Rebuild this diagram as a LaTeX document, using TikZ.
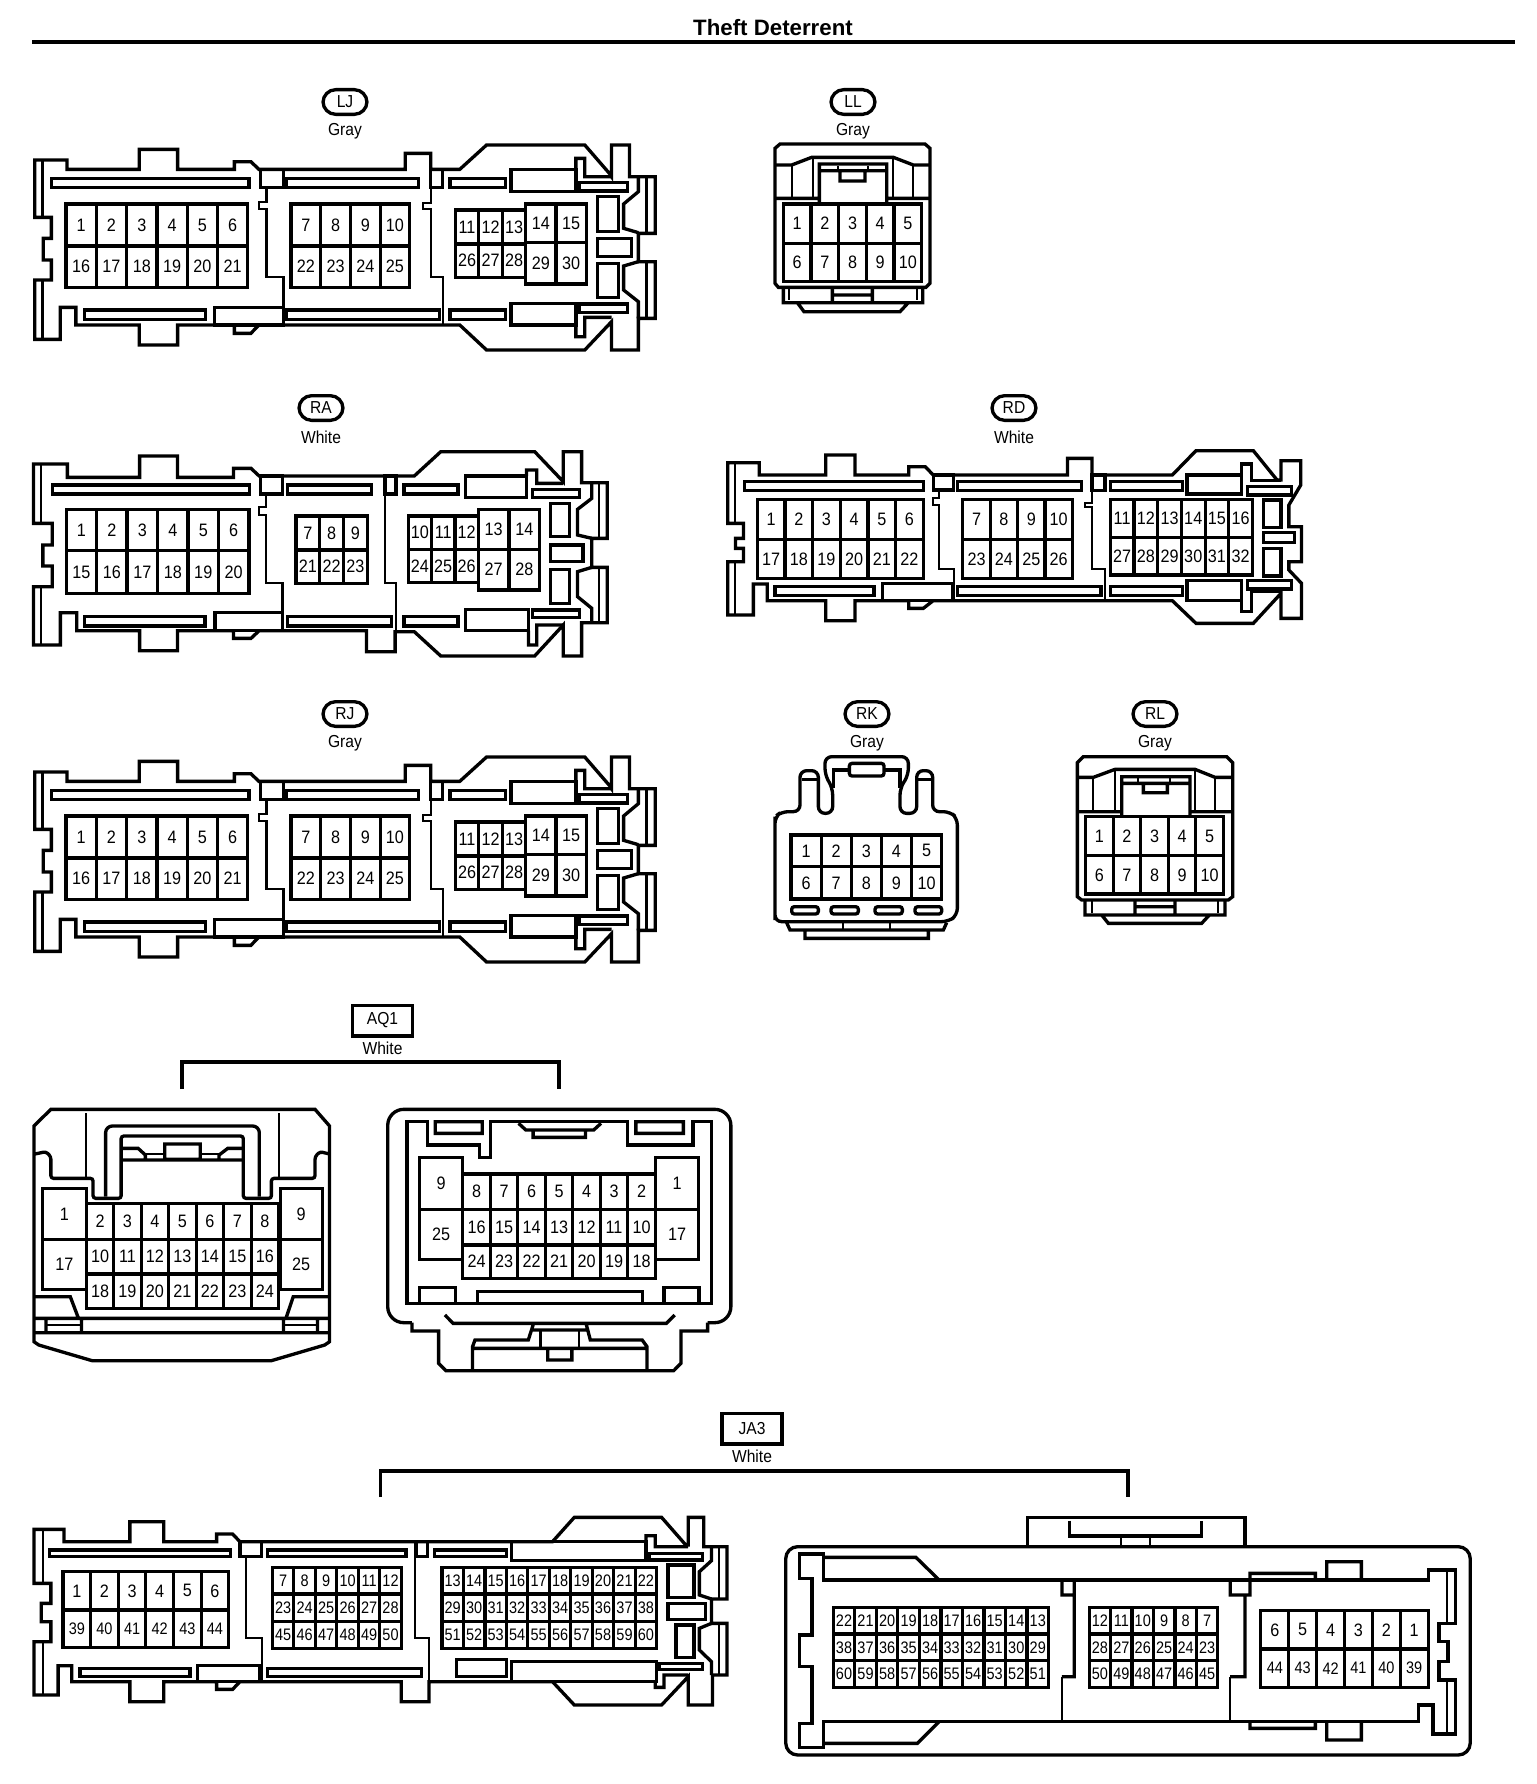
\documentclass[tikz,border=0pt]{standalone}
\usepackage{fontspec}
\setmainfont{Liberation Sans}
\newfontfamily\pinfont[FakeStretch=0.9]{Liberation Sans}
\newfontfamily\densefont[FakeStretch=0.87]{Liberation Sans}
\tikzset{
  outl/.style={draw=black,line width=2.5pt,line join=miter,fill=none},
  thinl/.style={draw=black,line width=1.7pt,line join=miter,fill=none},
  cellb/.style={draw=black,line width=2.4pt},
  pintxt/.style={inner sep=0pt,font=\pinfont\fontsize{13.5}{13.5}\selectfont},
  densetxt/.style={inner sep=0pt,font=\densefont\fontsize{12.5}{12.5}\selectfont},
  ovallab/.style={draw=black,line width=2.5pt,rounded corners=9.5pt,minimum width=33pt,minimum height=18.5pt,inner sep=0pt,font=\pinfont\fontsize{13}{13}\selectfont},
  boxlab/.style={draw=black,line width=2.5pt,minimum width=45pt,minimum height=23pt,inner sep=0pt,font=\pinfont\fontsize{13}{13}\selectfont},
  collab/.style={inner sep=0pt,font=\pinfont\fontsize{13}{13}\selectfont},
  zoomcs/.style n args={4}{shift={(#1,#2)},x={0.75pt/#3},y={-0.75pt/#4}}
}
% x0 x1 ncols y0 y1 style labels
\newcommand\pinrow[7]{%
  \foreach \t [count=\i] in {#7}{%
    \pgfmathsetmacro\xa{#1+(\i-1)*(#2-#1)/#3}%
    \pgfmathsetmacro\xb{#1+\i*(#2-#1)/#3}%
    \draw[cellb] (\xa,#4) rectangle (\xb,#5);
    \node[#6] (\t) at ({(\xa+\xb)/2},{(#4+#5)/2}) {\t};
  }%
}
\newcommand\connlabel[5]{%
  \node[ovallab] (#1) at (#2,#3) {#4};
  \node[collab] (#1col) at (#2,#3+29) {#5};
}
\newcommand\ljbody{%
  \draw[outl] (78,300)--(150,300)--(150,328)--(312,328)--(312,268)--(398,268)--(398,328)--(525,328)--(525,305)--(562,305)--(580,328)--(908,328)--(908,280)--(965,280)--(965,328)--(1030,328)--(1090,255)--(1310,255)--(1365,340)--(1370,350)--(1370,255)--(1410,255)--(1410,350)--(1468,350)--(1468,520)--(1430,520)--(1430,605)--(1468,605)--(1468,775)--(1430,775)--(1430,870)--(1370,870)--(1370,785)--(1310,870)--(1090,870)--(1030,795)--(580,795)--(562,820)--(525,820)--(525,795)--(398,795)--(398,855)--(312,855)--(312,795)--(170,795)--(170,742)--(135,742)--(135,838)--(78,838)--(78,660)--(115,660)--(115,600)--(97,600)--(97,535)--(115,535)--(115,472)--(78,472)--cycle;
  \draw[thinl] (95,300)--(95,472) (95,660)--(95,838) (1448,350)--(1448,520) (1448,605)--(1448,775);
  \draw[outl] (115,355) rectangle (558,382) (642,355) rectangle (938,382) (1008,355) rectangle (1133,382)
    (190,750) rectangle (460,778) (642,750) rectangle (985,778) (1008,750) rectangle (1133,778)
    (480,742) rectangle (635,795) (583,328) rectangle (635,382) (965,328) rectangle (992,382)
    (1145,328) rectangle (1290,395) (1298,368) rectangle (1405,393) (1338,410) rectangle (1385,515)
    (1338,535) rectangle (1415,590) (1338,610) rectangle (1385,712) (1145,730) rectangle (1290,795)
    (1298,732) rectangle (1405,757);
  \draw[thinl] (597,382)--(597,425)--(580,425)--(580,447)--(597,447)--(597,652)--(635,652)--(635,795)
    (965,382)--(965,430)--(948,430)--(948,447)--(965,447)--(965,652)--(992,652)--(992,795);
  \draw[outl] (1290,328)--(1290,295)--(1310,295)--(1310,350)--(1370,350)
    (1290,795)--(1290,830)--(1310,830)--(1310,772)--(1370,772)
    (1430,350)--(1430,395)--(1397,432)--(1397,505)--(1430,518)
    (1430,605)--(1397,618)--(1397,690)--(1430,725)--(1430,775);
  \pinrow{148}{555}{6}{432}{558}{pintxt}{1,2,3,4,5,6}
  \pinrow{148}{555}{6}{558}{682}{pintxt}{16,17,18,19,20,21}
  \pinrow{652}{918}{4}{432}{558}{pintxt}{7,8,9,10}
  \pinrow{652}{918}{4}{558}{682}{pintxt}{22,23,24,25}
  \pinrow{1020}{1178}{3}{450}{552}{pintxt}{11,12,13}
  \pinrow{1020}{1178}{3}{552}{652}{pintxt}{26,27,28}
  \pinrow{1178}{1313}{2}{432}{548}{pintxt}{14,15}
  \pinrow{1178}{1313}{2}{548}{672}{pintxt}{29,30}
}
\begin{document}
\begin{tikzpicture}[x=0.75pt,y=-0.75pt]
\useasboundingbox (0,0) rectangle (1536,1784);
\fill[white] (0,0) rectangle (1536,1784);
% title
\node[inner sep=0pt,font=\bfseries\fontsize{16.7}{16.7}\selectfont] (title) at (773,27.5) {Theft Deterrent};
\coordinate (ruleL) at (32,42);
\coordinate (ruleR) at (1515,42);
\draw[line width=3.2pt] (ruleL)--(ruleR);
% labels
\connlabel{LJ}{345}{102}{LJ}{Gray}
\connlabel{LL}{853}{102}{LL}{Gray}
\connlabel{RA}{321}{408}{RA}{White}
\connlabel{RD}{1014}{408}{RD}{White}
\connlabel{RJ}{345}{714}{RJ}{Gray}
\connlabel{RK}{867}{714}{RK}{Gray}
\connlabel{RL}{1155}{714}{RL}{Gray}
\node[boxlab] (AQ1) at (382.5,1020.5) {AQ1};
\node[collab] (AQ1col) at (382.5,1048) {White};
\coordinate (aqL) at (182,1089);
\coordinate (aqR) at (559,1089);
\draw[outl] (aqL)--(182,1062)--(559,1062)--(aqR);
\node[boxlab] (JA3) at (752,1428.5) {JA3};
\node[collab] (JA3col) at (752,1456) {White};
\coordinate (jaL) at (380.5,1497);
\coordinate (jaR) at (1128,1497);
\draw[outl] (jaL)--(380.5,1471)--(1128,1471)--(jaR);
% LJ
\begin{scope}[zoomcs={0}{60}{2.24}{3},name prefix=lj-]\ljbody\end{scope}
% RJ
\begin{scope}[zoomcs={0}{672}{2.24}{3},name prefix=rj-]\ljbody\end{scope}
% RA
\begin{scope}[zoomcs={0}{390}{2.45}{3},name prefix=ra-]
  \draw[outl] (82,222)--(165,222)--(165,262)--(342,262)--(342,198)--(435,198)--(435,262)--(572,262)--(572,235)--(615,235)--(635,258)--(1015,258)--(1080,185)--(1310,185)--(1380,275)--(1380,185)--(1425,185)--(1425,278)--(1488,278)--(1488,445)--(1450,445)--(1450,532)--(1488,532)--(1488,698)--(1450,698)--(1425,698)--(1425,798)--(1380,798)--(1380,705)--(1310,798)--(1080,798)--(1015,725)--(968,725)--(968,785)--(898,785)--(898,722)--(635,722)--(615,745)--(572,745)--(572,722)--(435,722)--(435,782)--(342,782)--(342,722)--(188,722)--(188,668)--(148,668)--(148,765)--(82,765)--(82,590)--(128,590)--(128,528)--(105,528)--(105,465)--(128,465)--(128,400)--(82,400)--cycle;
  \draw[thinl] (100,222)--(100,400) (100,590)--(100,765) (1468,278)--(1468,445) (1468,532)--(1468,698);
  \draw[outl] (128,285) rectangle (612,312) (705,285) rectangle (910,312) (990,285) rectangle (1122,312)
    (207,680) rectangle (502,708) (705,680) rectangle (960,708) (990,680) rectangle (1122,708)
    (527,668) rectangle (692,722) (638,258) rectangle (692,312) (943,258) rectangle (970,312)
    (1140,258) rectangle (1290,322) (1305,298) rectangle (1420,322) (1348,340) rectangle (1395,440)
    (1348,465) rectangle (1428,515) (1348,538) rectangle (1395,640) (1140,658) rectangle (1295,722)
    (1305,660) rectangle (1420,683);
  \draw[thinl] (652,312)--(652,350)--(635,350)--(635,375)--(652,375)--(652,578)--(692,578)--(692,722)
    (943,312)--(943,578)--(970,578)--(970,722);
  \draw[outl] (1290,258)--(1290,240)--(1315,240)--(1315,280)--(1380,280)
    (1295,722)--(1295,765)--(1315,765)--(1315,705)--(1380,705)
    (1450,278)--(1450,325)--(1415,358)--(1415,435)--(1450,445)
    (1450,532)--(1415,545)--(1415,620)--(1450,655)--(1450,698);
  \pinrow{162}{610}{6}{358}{482}{pintxt}{1,2,3,4,5,6}
  \pinrow{162}{610}{6}{482}{610}{pintxt}{15,16,17,18,19,20}
  \pinrow{725}{900}{3}{378}{480}{pintxt}{7,8,9}
  \pinrow{725}{900}{3}{480}{580}{pintxt}{21,22,23}
  \pinrow{1000}{1172}{3}{378}{478}{pintxt}{10,11,12}
  \pinrow{1000}{1172}{3}{478}{578}{pintxt}{24,25,26}
  \pinrow{1172}{1322}{2}{358}{478}{pintxt}{13,14}
  \pinrow{1172}{1322}{2}{478}{600}{pintxt}{27,28}
\end{scope}
% RD
\begin{scope}[zoomcs={700}{390}{2.53}{3},name prefix=rd-]
  \draw[outl] (70,218)--(150,218)--(150,255)--(318,255)--(318,195)--(392,195)--(392,255)--(528,255)--(528,230)--(570,230)--(590,255)--(930,255)--(930,205)--(992,205)--(992,255)--(1195,255)--(1255,182)--(1400,182)--(1460,270)--(1470,270)--(1470,212)--(1520,212)--(1520,285)--(1490,345)--(1490,410)--(1522,410)--(1522,515)--(1490,515)--(1490,540)--(1522,580)--(1522,685)--(1470,685)--(1470,610)--(1400,700)--(1255,700)--(1195,632)--(590,632)--(565,655)--(528,655)--(528,632)--(392,632)--(392,692)--(318,692)--(318,632)--(170,632)--(170,582)--(135,582)--(135,675)--(70,675)--(70,515)--(110,515)--(110,475)--(90,475)--(90,445)--(110,445)--(110,400)--(70,400)--cycle;
  \draw[thinl] (88,218)--(88,400) (88,515)--(88,675);
  \draw[outl] (112,275) rectangle (565,302) (652,275) rectangle (965,302) (1038,275) rectangle (1220,302)
    (190,590) rectangle (440,617) (652,590) rectangle (1015,617) (1038,590) rectangle (1220,617)
    (462,580) rectangle (640,632) (590,255) rectangle (642,300) (992,255) rectangle (1025,302)
    (1232,255) rectangle (1370,312) (1385,290) rectangle (1497,315) (1425,330) rectangle (1470,412)
    (1425,428) rectangle (1505,458) (1425,475) rectangle (1470,558) (1232,572) rectangle (1370,632)
    (1385,572) rectangle (1497,597);
  \draw[thinl] (605,302)--(605,325)--(590,325)--(590,345)--(605,345)--(605,538)--(642,538)--(642,632)
    (992,302)--(992,340)--(975,340)--(975,350)--(992,350)--(992,538)--(1025,538)--(1025,632);
  \draw[outl] (1370,255)--(1370,222)--(1395,222)--(1395,272)--(1470,272)
    (1370,632)--(1370,665)--(1395,665)--(1395,605)--(1470,605);
  \pinrow{145}{565}{6}{328}{448}{pintxt}{1,2,3,4,5,6}
  \pinrow{145}{565}{6}{448}{565}{pintxt}{17,18,19,20,21,22}
  \pinrow{665}{942}{4}{328}{448}{pintxt}{7,8,9,10}
  \pinrow{665}{942}{4}{448}{565}{pintxt}{23,24,25,26}
  \pinrow{1038}{1398}{6}{328}{442}{pintxt}{11,12,13,14,15,16}
  \pinrow{1038}{1398}{6}{442}{555}{pintxt}{27,28,29,30,31,32}
\end{scope}
% LL
\begin{scope}[zoomcs={740}{80}{3}{3},name prefix=ll-]
  \draw[outl] (105,205)--(120,192)--(555,192)--(570,205)--(570,610)--(558,622)--(115,622)--(105,610)--cycle;
  \draw[outl] (105,255)--(155,255)--(215,232)--(460,232)--(520,255)--(570,255)
    (105,355)--(240,355) (440,355)--(570,355)
    (238,370)--(238,252)--(440,252)--(440,370) (238,272)--(440,272)
    (300,272)--(300,303)--(375,303)--(375,272);
  \draw[thinl] (155,255)--(155,355) (520,255)--(520,355) (220,232)--(220,355) (458,232)--(458,355)
    (293,258)--(293,272) (385,258)--(385,272);
  \pinrow{130}{545}{5}{372}{490}{pintxt}{1,2,3,4,5}
  \pinrow{130}{545}{5}{490}{605}{pintxt}{6,7,8,9,10}
  \draw[outl] (130,622)--(130,668)--(172,668)--(192,695)--(480,695)--(505,668)--(548,668)--(548,622)
    (130,668)--(548,668) (277,625)--(277,665) (397,625)--(397,665) (277,645)--(397,645);
  \draw[thinl] (148,622)--(148,660) (530,622)--(530,660);
\end{scope}
% RK and RL
\begin{scope}[zoomcs={740}{700}{3}{3},name prefix=rk-]
  \draw[outl,rounded corners=5pt] (105,370)--(105,350)--(125,335)--(180,335)--(180,212)--(235,212)--(235,340)--(278,340)--(278,265)--(255,225)--(255,170)--(505,170)--(505,225)--(480,265)--(480,340)--(530,340)--(530,212)--(578,212)--(578,335)--(630,335)--(652,355)--(652,645)--(625,665)--(105,665)--(105,640)--cycle;
  \draw[outl] (185,238)--(230,238) (535,238)--(575,238) (280,265)--(280,210)--(330,210) (430,210)--(480,210)--(480,265);
  \draw[outl,rounded corners=2pt] (328,190) rectangle (432,228)
    (155,620) rectangle (235,642) (273,620) rectangle (355,642) (405,620) rectangle (487,642) (525,620) rectangle (605,642);
  \pinrow{153}{605}{5}{405}{500}{pintxt}{1,2,3,4,5}
  \pinrow{153}{605}{5}{500}{597}{pintxt}{6,7,8,9,10}
  \draw[outl] (140,668)--(150,690)--(610,690)--(620,668) (195,692)--(195,715)--(565,715)--(565,692);
  \draw[thinl] (310,668)--(310,690) (450,668)--(450,690);
\end{scope}
\begin{scope}[zoomcs={740}{700}{3}{3},name prefix=rl-]
  \draw[outl] (1012,188)--(1030,170)--(1460,170)--(1478,188)--(1478,590)--(1465,600)--(1025,600)--(1012,590)--cycle;
  \draw[outl] (1012,232)--(1060,232)--(1125,208)--(1365,208)--(1425,232)--(1478,232)
    (1012,335)--(1145,335) (1345,335)--(1478,335)
    (1145,345)--(1145,230)--(1350,230)--(1350,345) (1145,250)--(1350,250)
    (1210,250)--(1210,278)--(1282,278)--(1282,250);
  \draw[thinl] (1060,232)--(1060,335) (1425,232)--(1425,335) (1125,208)--(1125,335) (1365,208)--(1365,335)
    (1195,235)--(1195,250) (1290,235)--(1290,250);
  \pinrow{1037}{1450}{5}{350}{467}{pintxt}{1,2,3,4,5}
  \pinrow{1037}{1450}{5}{467}{582}{pintxt}{6,7,8,9,10}
  \draw[outl] (1035,600)--(1035,645)--(1085,645)--(1105,670)--(1385,670)--(1408,645)--(1455,645)--(1455,600)
    (1085,645)--(1408,645) (1185,600)--(1185,640) (1305,600)--(1305,640) (1185,620)--(1305,620);
  \draw[thinl] (1055,600)--(1055,640) (1435,600)--(1435,640);
\end{scope}
% AQ1 left
\begin{scope}[zoomcs={0}{1000}{2.063}{3},name prefix=aql-]
  \draw[outl] (105,328)--(650,328)--(680,378)--(680,1025)--(670,1035)--(560,1082)--(190,1082)--(80,1035)--(70,1025)--(70,378)--cycle;
  \draw[thinl] (178,340)--(178,535) (575,340)--(575,535);
  \draw[outl,rounded corners=2pt] (72,462)--(95,455)--(105,470)--(105,535)--(192,535)--(192,595)--(250,595)--(250,408)--(502,408)--(502,595)--(560,595)--(560,535)--(650,535)--(650,470)--(660,455)--(680,462);
  \draw[outl,rounded corners=5pt] (218,590)--(218,378)--(535,378)--(535,590);
  \draw[outl] (250,480)--(502,480) (340,432) rectangle (413,478)
    (250,445)--(285,445)--(300,465)--(300,478) (502,445)--(470,445)--(452,465)--(452,478);
  \draw[thinl] (300,462)--(340,462) (413,462)--(452,462);
  \pinrow{88}{178}{1}{565}{718}{pintxt}{1}
  \pinrow{88}{178}{1}{718}{868}{pintxt}{17}
  \pinrow{578}{665}{1}{565}{718}{pintxt}{9}
  \pinrow{578}{665}{1}{718}{868}{pintxt}{25}
  \pinrow{178}{575}{7}{610}{718}{pintxt}{2,3,4,5,6,7,8}
  \pinrow{178}{575}{7}{718}{822}{pintxt}{10,11,12,13,14,15,16}
  \pinrow{178}{575}{7}{822}{925}{pintxt}{18,19,20,21,22,23,24}
  \draw[outl] (72,955)--(680,955) (72,998)--(680,998) (95,955)--(95,998) (168,955)--(168,998) (585,955)--(585,998) (655,955)--(655,998)
    (72,890)--(145,890)--(162,955) (680,890)--(605,890)--(590,955);
  \draw[thinl] (95,975)--(168,975) (585,975)--(655,975);
\end{scope}
% AQ1 right
\begin{scope}[zoomcs={0}{1000}{2.063}{3},name prefix=aqr-]
  \draw[outl,rounded corners=12pt] (850,968)--(800,968)--(800,328)--(1508,328)--(1508,968)--(1460,968);
  \draw[outl] (850,968)--(850,993)--(905,993)--(905,1090)--(920,1112)--(1390,1112)--(1405,1090)--(1405,993)--(1460,993)--(1460,968);
  \draw[outl] (840,910)--(840,365)--(882,365)--(882,435)--(990,435)--(990,472)--(1012,472)--(1012,365)--(1295,365)--(1295,435)--(1430,435)--(1430,365)--(1468,365)--(1468,910)--cycle;
  \draw[outl] (898,365) rectangle (995,400) (1312,365) rectangle (1410,400)
    (1070,370)--(1085,390)--(1225,390)--(1240,370) (1100,390)--(1100,412)--(1208,412)--(1208,390);
  \pinrow{865}{955}{1}{472}{628}{pintxt}{9}
  \pinrow{865}{955}{1}{628}{778}{pintxt}{25}
  \pinrow{1352}{1442}{1}{472}{628}{pintxt}{1}
  \pinrow{1352}{1442}{1}{628}{778}{pintxt}{17}
  \pinrow{955}{1352}{7}{522}{628}{pintxt}{8,7,6,5,4,3,2}
  \pinrow{955}{1352}{7}{628}{735}{pintxt}{16,15,14,13,12,11,10}
  \pinrow{955}{1352}{7}{735}{835}{pintxt}{24,23,22,21,20,19,18}
  \draw[outl] (865,910)--(865,862)--(940,862)--(940,910) (985,910)--(985,875)--(1325,875)--(1325,910) (1370,910)--(1370,862)--(1442,862)--(1442,910);
  \draw[outl] (918,945)--(935,970)--(1375,970)--(1392,945)
    (1100,975)--(1090,1020)--(980,1020)--(975,1040)--(975,1112) (1210,975)--(1218,1020)--(1325,1020)--(1335,1040)--(1335,1112)
    (975,1045)--(1335,1045) (1095,990)--(1215,990) (1130,1045)--(1130,1080)--(1180,1080)--(1180,1045);
  \draw[thinl] (1115,990)--(1115,1045) (1195,990)--(1195,1045);
\end{scope}
% JA3 left
\begin{scope}[zoomcs={0}{1400}{2.063}{3},name prefix=jal-]
  \draw[outl] (70,388)--(132,388)--(132,425)--(268,425)--(268,365)--(338,365)--(338,425)--(447,425)--(447,402)--(480,402)--(495,425)--(1140,425)--(1185,352)--(1365,352)--(1415,435)--(1420,435)--(1420,352)--(1452,352)--(1452,440)--(1500,440)--(1500,597)--(1468,597)--(1468,670)--(1500,670)--(1500,825)--(1470,825)--(1470,915)--(1420,915)--(1420,830)--(1365,915)--(1185,915)--(1140,845)--(885,845)--(885,905)--(828,905)--(828,845)--(495,845)--(480,868)--(447,868)--(447,845)--(338,845)--(338,905)--(268,905)--(268,845)--(148,845)--(148,797)--(120,797)--(120,885)--(70,885)--(70,725)--(105,725)--(105,665)--(85,665)--(85,610)--(105,610)--(105,550)--(70,550)--cycle;
  \draw[thinl] (88,388)--(88,550) (88,725)--(88,885) (1483,440)--(1483,597) (1483,670)--(1483,825);
  \draw[outl] (102,450) rectangle (475,470) (552,450) rectangle (838,470) (897,450) rectangle (1045,470)
    (165,805) rectangle (392,830) (552,805) rectangle (870,830) (408,797) rectangle (535,845)
    (495,425) rectangle (540,470) (860,425) rectangle (882,470) (1055,425) rectangle (1333,482)
    (1340,460) rectangle (1450,480) (1378,495) rectangle (1432,592) (1378,610) rectangle (1455,658)
    (1395,675) rectangle (1432,772) (942,778) rectangle (1045,830) (1055,785) rectangle (1355,845)
    (1360,790) rectangle (1450,808);
  \draw[thinl] (507,470)--(507,715)--(540,715)--(540,845) (857,425)--(857,715)--(885,715)--(885,845);
  \draw[outl] (1333,425)--(1333,407)--(1352,407)--(1352,440)--(1420,440)
    (1352,845)--(1352,862)--(1370,862)--(1370,825)--(1420,825)
    (1468,440)--(1468,482)--(1443,515)--(1443,585)--(1468,597)
    (1468,670)--(1443,685)--(1443,750)--(1468,785)--(1468,825);
  \pinrow{130}{472}{6}{515}{630}{pintxt}{1,2,3,4,5,6}
  \pinrow{130}{472}{6}{630}{742}{densetxt}{39,40,41,42,43,44}
  \pinrow{562}{828}{6}{502}{582}{densetxt}{7,8,9,10,11,12}
  \pinrow{562}{828}{6}{582}{665}{densetxt}{23,24,25,26,27,28}
  \pinrow{562}{828}{6}{665}{745}{densetxt}{45,46,47,48,49,50}
  \pinrow{912}{1355}{10}{502}{582}{densetxt}{13,14,15,16,17,18,19,20,21,22}
  \pinrow{912}{1355}{10}{582}{665}{densetxt}{29,30,31,32,33,34,35,36,37,38}
  \pinrow{912}{1355}{10}{665}{745}{densetxt}{51,52,53,54,55,56,57,58,59,60}
\end{scope}
% JA3 right
\begin{scope}[zoomcs={760}{1400}{2.02}{3},name prefix=jar-]
  \draw[outl,rounded corners=9pt] (52,440) rectangle (1435,1065);
  \draw[outl] (540,440)--(540,352)--(980,352)--(980,440) (625,362)--(625,408)--(892,408)--(892,362);
  \draw[thinl] (730,408)--(730,440) (788,408)--(788,440);
  \draw[outl] (80,462)--(128,462)--(128,540)--(1350,540)--(1350,510)--(1405,510)--(1405,670)--(1372,670)--(1372,725)--(1390,725)--(1390,785)--(1372,785)--(1372,840)--(1405,840)--(1405,1002)--(1360,1002)--(1360,915)--(1330,915)--(1330,965)--(128,965)--(128,1042)--(80,1042)--(80,970)--(105,970)--(105,800)--(80,800)--(80,705)--(105,705)--(105,535)--(80,535)--cycle;
  \draw[thinl] (1388,510)--(1388,670) (1388,840)--(1388,1002);
  \draw[outl] (128,472)--(315,472)--(362,540) (128,1030)--(318,1030)--(362,965)
    (610,540)--(610,585)--(635,585)--(635,830)--(610,830) (635,540)--(635,585)
    (950,540)--(950,585)--(990,585)--(990,540) (980,585)--(980,830)--(950,830)
    (990,540)--(990,520)--(1122,520)--(1122,540) (1145,540)--(1145,485)--(1215,485)--(1215,540)
    (990,965)--(990,985)--(1122,985)--(1122,965) (1145,965)--(1145,1020)--(1215,1020)--(1215,965);
  \draw[thinl] (610,830)--(610,965) (950,830)--(950,965);
  \pinrow{148}{583}{10}{622}{702}{densetxt}{22,21,20,19,18,17,16,15,14,13}
  \pinrow{148}{583}{10}{702}{782}{densetxt}{38,37,36,35,34,33,32,31,30,29}
  \pinrow{148}{583}{10}{782}{862}{densetxt}{60,59,58,57,56,55,54,53,52,51}
  \pinrow{665}{925}{6}{622}{702}{densetxt}{12,11,10,9,8,7}
  \pinrow{665}{925}{6}{702}{782}{densetxt}{28,27,26,25,24,23}
  \pinrow{665}{925}{6}{782}{862}{densetxt}{50,49,48,47,46,45}
  \pinrow{1012}{1350}{6}{632}{747}{pintxt}{6,5,4,3,2,1}
  \pinrow{1012}{1350}{6}{747}{862}{densetxt}{44,43,42,41,40,39}
\end{scope}
\end{tikzpicture}
\end{document}
